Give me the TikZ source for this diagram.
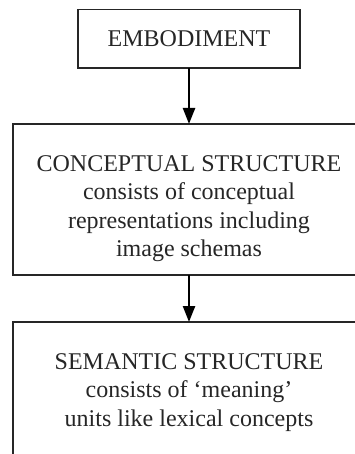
\documentclass[tikz,border=0pt]{standalone}
\usepackage{fontspec}
\setmainfont{Liberation Serif}
\usetikzlibrary{positioning,arrows.meta}

\newlength{\du}
\setlength{\du}{1pt}
\definecolor{dialinecolor}{rgb}{0.150000, 0.150000, 0.150000}

\tikzset{
  box/.style={draw=dialinecolor, line width=1.4\du, inner sep=0pt, outer sep=0pt},
  boxtext/.style={align=center, inner sep=0pt, text=dialinecolor,
    font=\fontsize{24\du}{28.5\du}\selectfont},
  flow/.style={draw=black, line width=2.4\du, -{Triangle[width=12pt,length=16pt]}},
}

\begin{document}
\begin{tikzpicture}
\clip (0\du,0\du) rectangle (355\du,-454\du);
% boxes
\node[box, boxtext, minimum width=222\du, minimum height=58.5\du] (embodiment) at (189\du,-38.75\du) {EMBODIMENT};
\node[box, minimum width=352\du, minimum height=151\du, below=56\du of embodiment] (conceptual) {};
\node[box, minimum width=352\du, minimum height=170\du, below=47\du of conceptual] (semantic) {};
% texts
\node[boxtext, below=31\du of conceptual.north] (conceptualtext) {CONCEPTUAL STRUCTURE\\consists of conceptual\\representations including\\image schemas};
\node[boxtext, below=31\du of semantic.north] (semantictext) {SEMANTIC STRUCTURE\\consists of ‘meaning’\\units like lexical concepts};
% arrows
\draw[flow] (embodiment) -- (conceptual);
\draw[flow] (conceptual) -- (semantic);
\end{tikzpicture}
\end{document}
